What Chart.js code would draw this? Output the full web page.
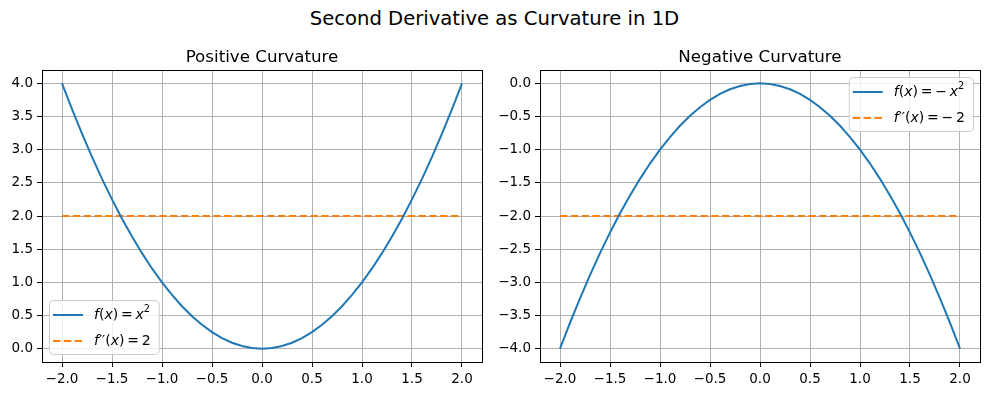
<!DOCTYPE html>
<html>
<head>
<meta charset="utf-8">
<script src="https://cdn.jsdelivr.net/npm/chart.js@4.4.1/dist/chart.umd.min.js"></script>
<style>
  html, body { margin: 0; padding: 0; background: #ffffff; }
  body { width: 989px; height: 396px; position: relative; overflow: hidden; font-family: "DejaVu Sans", sans-serif; }
  #suptitle { position: absolute; left: 0; top: 7px; width: 989px; text-align: center; font-size: 19.6px; color: #000; line-height: 24px; }
  .box { position: absolute; top: 40px; height: 356px; }
  #b1 { left: 0; width: 494px; }
  #b2 { left: 494px; width: 495px; }
</style>
</head>
<body>
<div id="suptitle">Second Derivative as Curvature in 1D</div>
<div class="box" id="b1"><canvas id="c1"></canvas></div>
<div class="box" id="b2"><canvas id="c2"></canvas></div>
<script>
// ---- data ----
const xValues = [-2.0,-1.9,-1.8,-1.7,-1.6,-1.5,-1.4,-1.3,-1.2,-1.1,-1.0,-0.9,-0.8,-0.7,-0.6,-0.5,-0.4,-0.3,-0.2,-0.1,0.0,0.1,0.2,0.3,0.4,0.5,0.6,0.7,0.8,0.9,1.0,1.1,1.2,1.3,1.4,1.5,1.6,1.7,1.8,1.9,2.0];
const posCurve = [4.00,3.61,3.24,2.89,2.56,2.25,1.96,1.69,1.44,1.21,1.00,0.81,0.64,0.49,0.36,0.25,0.16,0.09,0.04,0.01,0.00,0.01,0.04,0.09,0.16,0.25,0.36,0.49,0.64,0.81,1.00,1.21,1.44,1.69,1.96,2.25,2.56,2.89,3.24,3.61,4.00];
const negCurve = [-4.00,-3.61,-3.24,-2.89,-2.56,-2.25,-1.96,-1.69,-1.44,-1.21,-1.00,-0.81,-0.64,-0.49,-0.36,-0.25,-0.16,-0.09,-0.04,-0.01,0.00,-0.01,-0.04,-0.09,-0.16,-0.25,-0.36,-0.49,-0.64,-0.81,-1.00,-1.21,-1.44,-1.69,-1.96,-2.25,-2.56,-2.89,-3.24,-3.61,-4.00];
const derivX = [-2.0, 2.0];
const posDeriv = [2, 2];
const negDeriv = [-2, -2];
const xTicks = [-2.0,-1.5,-1.0,-0.5,0.0,0.5,1.0,1.5,2.0];
const posYTicks = [0.0,0.5,1.0,1.5,2.0,2.5,3.0,3.5,4.0];
const negYTicks = [-4.0,-3.5,-3.0,-2.5,-2.0,-1.5,-1.0,-0.5,0.0];
const titles = ["Positive Curvature", "Negative Curvature"];

const BLUE = '#1f77b4', ORANGE = '#ff7f0e';
const FONT = '"DejaVu Sans", sans-serif';
const TICK_SIZE = 13.5;
const LEG_SIZE = 14;

function fmt(v) {
  const s = Math.abs(v).toFixed(1);
  return (v < 0 ? '\u2212' : '') + s;
}
function pts(xs, ys) { return xs.map((x, i) => ({ x: x, y: ys[i] })); }

// math-ish label segments: [text, style] style: i=italic, n=normal, s=superscript
const legendPos = [
  [['f','i'],['(','n'],['x','i'],[')','n'],['\u2009=\u2009','n'],['x','i'],['2','s']],
  [['f','i'],['\u2032\u2032','n'],['(','n'],['x','i'],[')','n'],['\u2009=\u20092','n']]
];
const legendNeg = [
  [['f','i'],['(','n'],['x','i'],[')','n'],['\u2009=\u2009\u2212\u2009','n'],['x','i'],['2','s']],
  [['f','i'],['\u2032\u2032','n'],['(','n'],['x','i'],[')','n'],['\u2009=\u2009\u2212\u20092','n']]
];

function segFont(st, size) {
  if (st === 'i') return 'italic ' + size + 'px ' + FONT;
  if (st === 's') return (size * 0.7) + 'px ' + FONT;
  return size + 'px ' + FONT;
}
function measureSegs(ctx, segs, size) {
  let w = 0;
  segs.forEach(([t, st]) => { ctx.font = segFont(st, size); w += ctx.measureText(t).width; });
  return w;
}
function drawSegs(ctx, segs, x, y, size) {
  ctx.textBaseline = 'middle';
  ctx.textAlign = 'left';
  segs.forEach(([t, st]) => {
    ctx.font = segFont(st, size);
    const dy = st === 's' ? -size * 0.38 : 0;
    ctx.fillText(t, x, y + dy);
    x += ctx.measureText(t).width;
  });
}

function roundRect(ctx, x, y, w, h, r) {
  ctx.beginPath();
  ctx.moveTo(x + r, y);
  ctx.lineTo(x + w - r, y);
  ctx.quadraticCurveTo(x + w, y, x + w, y + r);
  ctx.lineTo(x + w, y + h - r);
  ctx.quadraticCurveTo(x + w, y + h, x + w - r, y + h);
  ctx.lineTo(x + r, y + h);
  ctx.quadraticCurveTo(x, y + h, x, y + h - r);
  ctx.lineTo(x, y + r);
  ctx.quadraticCurveTo(x, y, x + r, y);
  ctx.closePath();
}

function framePlugin(legendRows, corner, title) {
  return {
    id: 'frameLegend',
    afterDatasetsDraw(chart) {
      const ctx = chart.ctx, a = chart.chartArea;
      ctx.save();
      ctx.strokeStyle = '#000';
      ctx.lineWidth = 1;
      ctx.strokeRect(Math.round(a.left) + 0.5, Math.round(a.top) + 0.5, Math.round(a.right - a.left), Math.round(a.bottom - a.top));
      // subplot title
      ctx.fillStyle = '#000';
      ctx.font = '16.7px ' + FONT;
      ctx.textAlign = 'center';
      ctx.textBaseline = 'middle';
      ctx.fillText(title, (a.left + a.right) / 2, a.top - 12);
      // legend
      const size = LEG_SIZE;
      const tw = Math.max(...legendRows.map(r => measureSegs(ctx, r, size)));
      const w = 45 + tw + 8, h = 54;
      let x0, y0;
      if (corner === 'll') { x0 = a.left + 7; y0 = a.bottom - 8 - h; }
      else { x0 = a.right - 7 - w; y0 = a.top + 7; }
      roundRect(ctx, x0 + 0.5, y0 + 0.5, w, h, 4);
      ctx.fillStyle = 'rgba(255,255,255,0.8)';
      ctx.fill();
      ctx.strokeStyle = '#cccccc';
      ctx.lineWidth = 1;
      ctx.stroke();
      const rows = [y0 + 15, y0 + 41];
      const colors = [BLUE, ORANGE];
      rows.forEach((ry, i) => {
        ctx.beginPath();
        ctx.strokeStyle = colors[i];
        ctx.lineWidth = 2;
        ctx.setLineDash(i === 1 ? [7.5, 3.3] : []);
        ctx.moveTo(x0 + 4, ry);
        ctx.lineTo(x0 + 34, ry);
        ctx.stroke();
        ctx.setLineDash([]);
        ctx.fillStyle = '#000';
        drawSegs(ctx, legendRows[i], x0 + 45, ry, size);
      });
      ctx.restore();
    }
  };
}

function makeChart(id, curve, deriv, yTicks, yMin, yMax, title, yAxisWidth, padRight, legendRows, corner) {
  return new Chart(document.getElementById(id), {
    type: 'line',
    data: {
      datasets: [
        { data: pts(xValues, curve), borderColor: BLUE, borderWidth: 2, pointRadius: 0, tension: 0, fill: false },
        { data: pts(derivX, deriv), borderColor: ORANGE, borderWidth: 2, borderDash: [7.5, 3.3], pointRadius: 0, tension: 0, fill: false }
      ]
    },
    options: {
      responsive: true,
      maintainAspectRatio: false,
      animation: false,
      events: [],
      layout: { padding: { left: 0, right: padRight, top: 30, bottom: 0 } },
      plugins: {
        legend: { display: false },
        tooltip: { enabled: false },
        title: { display: false }
      },
      scales: {
        x: {
          type: 'linear', min: -2.2, max: 2.2,
          afterBuildTicks: s => { s.ticks = xTicks.map(v => ({ value: v })); },
          afterFit: s => { s.height = 34; },
          ticks: { callback: v => fmt(v), color: '#000', font: { family: FONT, size: TICK_SIZE }, padding: 4, maxRotation: 0, autoSkip: false },
          grid: { color: '#b0b0b0', lineWidth: 1, drawTicks: true, tickLength: 5, tickColor: '#000', tickWidth: 1 },
          border: { display: true, color: '#000', width: 1 }
        },
        y: {
          type: 'linear', min: yMin, max: yMax,
          afterBuildTicks: s => { s.ticks = yTicks.map(v => ({ value: v })); },
          afterFit: s => { s.width = yAxisWidth; },
          ticks: { callback: v => fmt(v), color: '#000', font: { family: FONT, size: TICK_SIZE }, padding: 4, autoSkip: false },
          grid: { color: '#b0b0b0', lineWidth: 1, drawTicks: true, tickLength: 5, tickColor: '#000', tickWidth: 1 },
          border: { display: true, color: '#000', width: 1 }
        }
      }
    },
    plugins: [framePlugin(legendRows, corner, title)]
  });
}

makeChart('c1', posCurve, posDeriv, posYTicks, -0.2, 4.2, titles[0], 42, 12, legendPos, 'll');
makeChart('c2', negCurve, negDeriv, negYTicks, -4.2, 0.2, titles[1], 46, 9, legendNeg, 'ur');
</script>
</body>
</html>
